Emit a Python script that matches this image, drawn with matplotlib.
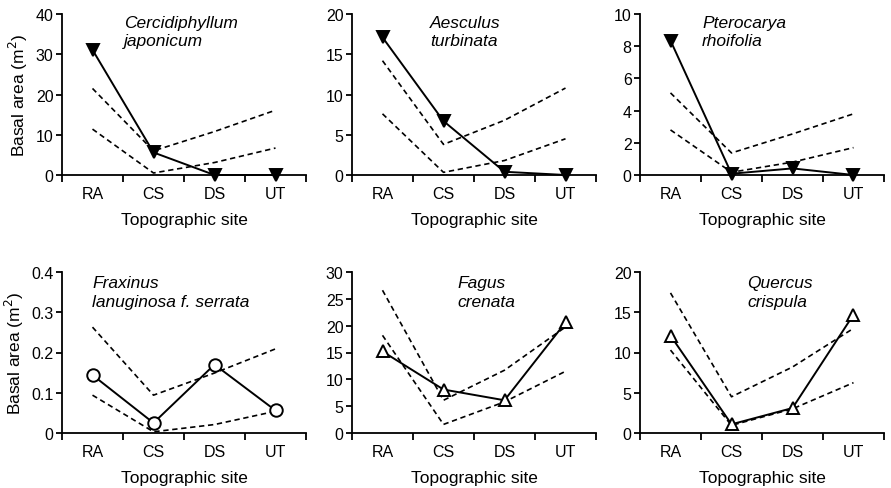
import matplotlib
matplotlib.use("Agg")
import matplotlib.pyplot as plt

plt.rcParams['font.family'] = ['Liberation Sans', 'DejaVu Sans']

sites = ["RA", "CS", "DS", "UT"]

species = ["Cercidiphyllum\njaponicum", "Aesculus\nturbinata", "Pterocarya\nrhoifolia",
           "Fraxinus\nlanuginosa f. serrata", "Fagus\ncrenata", "Quercus\ncrispula"]

observed = [
    [31.1, 5.6, 0.0, 0.0],
    [17.1, 6.7, 0.4, 0.0],
    [8.35, 0.08, 0.41, 0.0],
    [0.144, 0.025, 0.170, 0.056],
    [15.2, 8.1, 6.1, 20.6],
    [12.1, 1.08, 3.1, 14.7],
]
upper = [
    [21.5, 6.0, 10.8, 16.1],
    [14.2, 3.8, 6.8, 10.8],
    [5.1, 1.37, 2.55, 3.8],
    [0.263, 0.094, 0.149, 0.209],
    [26.6, 6.1, 11.7, 19.75],
    [17.4, 4.5, 8.2, 13.0],
]
lower = [
    [11.4, 0.5, 3.1, 6.7],
    [7.6, 0.33, 1.8, 4.5],
    [2.8, 0.17, 0.8, 1.7],
    [0.094, 0.003, 0.021, 0.054],
    [18.2, 1.6, 5.8, 11.5],
    [10.3, 0.95, 3.0, 6.25],
]
yticks = [
    [0, 10, 20, 30, 40],
    [0, 5, 10, 15, 20],
    [0, 2, 4, 6, 8, 10],
    [0, 0.1, 0.2, 0.3, 0.4],
    [0, 5, 10, 15, 20, 25, 30],
    [0, 5, 10, 15, 20],
]
yticklabels = [
    ["0", "10", "20", "30", "40"],
    ["0", "5", "10", "15", "20"],
    ["0", "2", "4", "6", "8", "10"],
    ["0", "0.1", "0.2", "0.3", "0.4"],
    ["0", "5", "10", "15", "20", "25", "30"],
    ["0", "5", "10", "15", "20"],
]
markers = ["v", "v", "v", "o", "^", "^"]
filled = [True, True, True, False, False, False]
label_pos = [(0.254, 0.995), (0.32, 0.995), (0.254, 0.995),
             (0.123, 0.98), (0.434, 0.98), (0.44, 0.98)]

W, H = 891, 489
fig = plt.figure(figsize=(W / 100, H / 100), dpi=100)

lefts = [62, 352, 640]
ax_w = 244
rows = [(15, 176), (273, 434)]

xpos = [0.5, 1.5, 2.5, 3.5]

for i in range(6):
    r, c = divmod(i, 3)
    top_px, bot_px = rows[r]
    ax = fig.add_axes([lefts[c] / W, 1 - bot_px / H, ax_w / W, (bot_px - top_px) / H])
    ax.plot(xpos, upper[i], ls=(0, (3.2, 2.2)), color='black', lw=1.2)
    ax.plot(xpos, lower[i], ls=(0, (3.2, 2.2)), color='black', lw=1.2)
    ax.plot(xpos, observed[i], color='black', lw=1.4, marker=markers[i],
            markersize=9,
            markerfacecolor='black' if filled[i] else 'white',
            markeredgecolor='black', markeredgewidth=1.4, clip_on=False, zorder=5)
    ax.set_xlim(0, 4)
    ax.set_ylim(yticks[i][0], yticks[i][-1])
    ax.set_xticks([0, 1, 2, 3, 4])
    ax.set_xticklabels([])
    ax.set_xticks(xpos, minor=True)
    ax.set_xticklabels(sites, minor=True, fontsize=11.5)
    ax.tick_params(axis='x', which='minor', length=0, pad=8)
    ax.tick_params(axis='x', which='major', direction='out', length=5, width=1.3)
    ax.set_yticks(yticks[i])
    ax.set_yticklabels(yticklabels[i], fontsize=11.5)
    ax.tick_params(axis='y', direction='out', length=4, width=1.3, pad=2)
    for s in ['top', 'right']:
        ax.spines[s].set_visible(False)
    for s in ['left', 'bottom']:
        ax.spines[s].set_linewidth(1.3)
    ax.set_xlabel("Topographic site", fontsize=12.5, labelpad=8)
    if c == 0:
        ax.set_ylabel("Basal area (m$^2$)", fontsize=12.5, labelpad=4)
    ax.text(label_pos[i][0], label_pos[i][1], species[i], transform=ax.transAxes,
            fontsize=12.5, style='italic', ha='left', va='top', linespacing=1.3)

fig.savefig("out.png", dpi=100)
